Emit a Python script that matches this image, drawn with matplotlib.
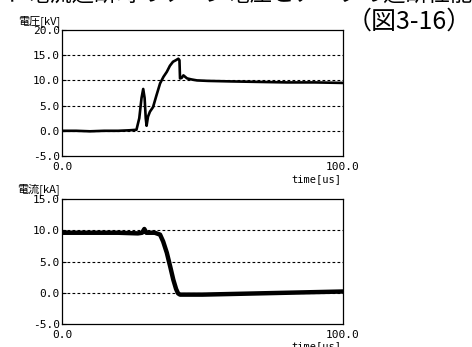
import matplotlib
matplotlib.use("Agg")
import matplotlib.pyplot as plt

plt.rcParams['font.family'] = ['Noto Sans CJK JP', 'DejaVu Sans']

# voltage waveform (kV)
t_volt = [0, 5, 10, 15, 20, 24, 26.5, 27.5, 28.3, 28.9, 29.4, 29.8, 30.1, 30.6,
          31.3, 32.4, 33.6, 34.9, 36.1, 37.3, 38.4, 39.5, 40.5, 41.4, 41.8,
          42.0, 42.6, 43.2, 44.5, 46, 48, 52, 60, 70, 80, 90, 100]
v_volt = [0.0, 0.0, -0.1, 0.0, 0.0, 0.1, 0.2, 2.5, 6.5, 8.3, 6.5, 2.5, 1.0, 2.8,
          3.8, 4.7, 7.0, 9.4, 10.7, 11.7, 12.9, 13.7, 14.0, 14.3, 14.0,
          10.4, 10.5, 11.0, 10.4, 10.2, 10.0, 9.9, 9.8, 9.7, 9.6, 9.6, 9.5]

# current waveform (kA)
t_curr = [0, 10, 20, 27, 28.5, 29.3, 30, 31, 33, 34.9, 36, 37.3, 38.5, 39.6,
          40.6, 41.3, 42, 44, 50, 60, 70, 80, 90, 100]
i_curr = [9.6, 9.6, 9.6, 9.5, 9.6, 10.2, 9.6, 9.6, 9.6, 9.3, 8.2, 6.4, 4.2, 2.1,
          0.6, -0.1, -0.3, -0.3, -0.3, -0.2, -0.1, 0.0, 0.1, 0.2]

y_ticks = [-5, 0, 5, 10, 15, 20]
y_tick_labels = ['-5.0', '0.0', '5.0', '10.0', '15.0', '20.0']
y_ticks_i = [-5, 0, 5, 10, 15]
y_tick_labels_i = ['-5.0', '0.0', '5.0', '10.0', '15.0']

MONO = 'DejaVu Sans Mono'

fig = plt.figure(figsize=(4.72, 3.47), dpi=100)
W, H = 472, 347


def make_axes(top, bottom):
    return fig.add_axes([62 / W, 1 - bottom / H, (343 - 62) / W, (bottom - top) / H])


def style(ax, ticks, labels, ylabel, label_y):
    ax.set_xlim(0, 100)
    ax.set_ylim(ticks[0], ticks[-1])
    ax.set_yticks(ticks)
    ax.set_yticklabels(labels, fontsize=8, family=MONO)
    ax.set_xticks([])
    for g in ticks[1:-1]:
        ax.axhline(g, color='black', lw=0.8, ls=(0, (2.5, 2)), zorder=1)
    ax.tick_params(axis='y', direction='in', length=3, width=0.8, pad=1.5)
    for s in ax.spines.values():
        s.set_linewidth(0.9)
    ax.text(0, -0.045, '0.0', transform=ax.transAxes, ha='center', va='top',
            fontsize=8, family=MONO)
    ax.text(1, -0.045, '100.0', transform=ax.transAxes, ha='center', va='top',
            fontsize=8, family=MONO)
    ax.text(0.907, -0.14, 'time[us]', transform=ax.transAxes, ha='center', va='top',
            fontsize=7.5, family=MONO)
    fig.text(60 / W, 1 - label_y / H, ylabel, ha='right', va='center', fontsize=8)


ax1 = make_axes(30, 156)
ax1.plot(t_volt, v_volt, color='black', lw=1.9, zorder=3)
style(ax1, y_ticks, y_tick_labels, '電圧[kV]', 21)

ax2 = make_axes(199, 324)
ax2.plot(t_curr, i_curr, color='black', lw=3.2, zorder=3)
style(ax2, y_ticks_i, y_tick_labels_i, '電流[kA]', 189)

fig.text(472 / W, 1 - 22 / H, '（図3-16）', ha='right', va='center', fontsize=18)
fig.text(0, 1 + 5 / H, 'イ 電流遮断時のサージ電圧とアークの遮断性能比較試験結果を示す',
         ha='left', va='center', fontsize=16)

fig.savefig('out.png', dpi=100)
